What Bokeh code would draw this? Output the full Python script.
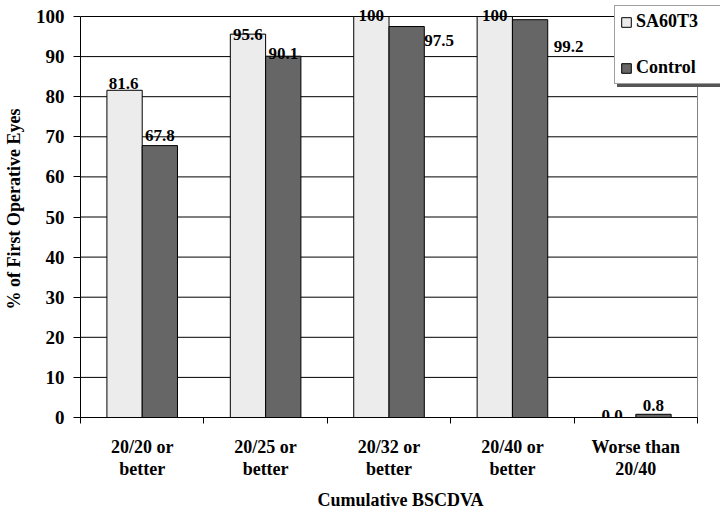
from bokeh.plotting import figure
from bokeh.models import (ColumnDataSource, Range1d, FixedTicker, Legend, LegendItem)
from bokeh.core.properties import value
from bokeh.embed import file_html
from bokeh.resources import INLINE
import numpy as np

categories = ["20/20 or\nbetter", "20/25 or\nbetter", "20/32 or\nbetter", "20/40 or\nbetter", "Worse than\n20/40"]
sa60t3 = [81.6, 95.6, 100.0, 100.0, 0.0]
control = [67.8, 90.1, 97.5, 99.2, 0.8]
y_ticks = [0, 10, 20, 30, 40, 50, 60, 70, 80, 90, 100]

FONT = "Liberation Serif"
LIGHT = "#ececec"
DARK = "#666666"
BW = 0.286

W, H = 720, 512
LEFT, BOTTOM = 79, 95          # border sizes in px
PLOT_W, PLOT_H = 618, 401      # size of the 0..n / 0..100 area in px


def fmt(v):
    return "100" if v == 100 else f"{v:.1f}"


n = len(categories)
centers = np.arange(n) + 0.5
ymax = y_ticks[-1]

frame_w = W - LEFT
frame_h = H - BOTTOM
x_end = n * frame_w / PLOT_W
y_end = ymax * frame_h / PLOT_H

src_a = ColumnDataSource(dict(x=centers - BW / 2, top=sa60t3))
src_b = ColumnDataSource(dict(x=centers + BW / 2, top=control))

p = figure(width=W, height=H, output_backend="svg", toolbar_location=None,
           x_range=Range1d(0, x_end), y_range=Range1d(0, y_end),
           min_border_left=LEFT, min_border_right=0, min_border_top=0, min_border_bottom=BOTTOM)
p.outline_line_color = None
p.background_fill_color = "white"
p.border_fill_color = "white"
p.xgrid.grid_line_color = None
p.ygrid.grid_line_color = None

# horizontal gridlines and right border of the plot area
grid = ColumnDataSource(dict(y=y_ticks, x0=[0] * len(y_ticks), x1=[n] * len(y_ticks)))
p.segment(x0="x0", y0="y", x1="x1", y1="y", source=grid, line_color="black", line_width=1)
p.segment(x0=[n], y0=[0], x1=[n], y1=[ymax], line_color="#808080", line_width=1)

ra = p.vbar(x="x", top="top", width=BW, source=src_a, fill_color=LIGHT, line_color="black", line_width=1)
rb = p.vbar(x="x", top="top", width=BW, source=src_b, fill_color=DARK, line_color="black", line_width=1)

TXT = dict(text_font=value(FONT), text_font_style="bold", text_font_size="17px", text_color="black")

# value labels: SA60T3
lab_a = ColumnDataSource(dict(x=centers - BW / 2, y=sa60t3, t=[fmt(v) for v in sa60t3],
                              xo=[-1, 0, 0, 0, -6], yo=[-7, 0, -1, -1, -2]))
p.text(x="x", y="y", text="t", source=lab_a, x_offset="xo", y_offset="yo",
       text_align="center", text_baseline="alphabetic", **TXT)

# value labels: Control (above bars)
idx_c = [0, 1, 4]
lab_b_c = ColumnDataSource(dict(x=[centers[i] + BW / 2 for i in idx_c],
                                y=[control[i] for i in idx_c],
                                t=[fmt(control[i]) for i in idx_c],
                                yo=[-10, -3, -9]))
p.text(x="x", y="y", text="t", source=lab_b_c, y_offset="yo",
       text_align="center", text_baseline="alphabetic", **TXT)

# value labels: Control (beside bars)
idx_r = [2, 3]
lab_b_r = ColumnDataSource(dict(x=[centers[i] + BW for i in idx_r],
                                y=[control[i] for i in idx_r],
                                t=[fmt(control[i]) for i in idx_r],
                                xo=[0, 6], yo=[14, 27]))
p.text(x="x", y="y", text="t", source=lab_b_r, x_offset="xo", y_offset="yo",
       text_align="left", text_baseline="middle", **TXT)

# x axis
xa = p.xaxis[0]
xa.bounds = (0, n)
xa.ticker = FixedTicker(ticks=list(centers), minor_ticks=list(range(n + 1)))
xa.major_label_overrides = {float(c): lab for c, lab in zip(centers, categories)}
xa.major_tick_out = 0
xa.major_tick_in = 0
xa.minor_tick_out = 6
xa.minor_tick_in = 0
xa.minor_tick_line_color = "black"
xa.axis_line_color = "black"
xa.major_label_standoff = 13
xa.major_label_text_font = FONT
xa.major_label_text_font_style = "bold"
xa.major_label_text_font_size = "18px"
xa.major_label_text_line_height = 1.1
xa.major_label_text_color = "black"
xa.axis_label = "Cumulative BSCDVA"
xa.axis_label_text_font = FONT
xa.axis_label_text_font_style = "bold"
xa.axis_label_text_font_size = "18px"
xa.axis_label_text_color = "black"
xa.axis_label_standoff = 8

# y axis
ya = p.yaxis[0]
ya.bounds = (0, ymax)
ya.ticker = FixedTicker(ticks=y_ticks)
ya.major_tick_out = 7
ya.major_tick_in = 0
ya.minor_tick_line_color = None
ya.axis_line_color = "black"
ya.major_tick_line_color = "black"
ya.major_label_standoff = 9
ya.major_label_text_font = FONT
ya.major_label_text_font_style = "bold"
ya.major_label_text_font_size = "19px"
ya.major_label_text_color = "black"
ya.axis_label = "% of First Operative Eyes"
ya.axis_label_text_font = FONT
ya.axis_label_text_font_style = "bold"
ya.axis_label_text_font_size = "18px"
ya.axis_label_text_color = "black"
ya.axis_label_standoff = 9

# legend (with a shadow drawn by a blank legend behind it)
LEG = dict(orientation="vertical", glyph_width=12, glyph_height=12, label_height=20,
           label_width=120, label_standoff=4, spacing=25, padding=5, margin=0,
           label_text_font=FONT, label_text_font_style="bold", label_text_font_size="18px",
           border_line_width=1, background_fill_alpha=1.0)
shadow = Legend(items=[LegendItem(label=" ", renderers=[ra]),
                       LegendItem(label=" ", renderers=[rb])],
                location=(537, 330), label_text_alpha=0.0,
                border_line_color="#555555", background_fill_color="#555555", **LEG)
legend = Legend(items=[LegendItem(label="SA60T3", renderers=[ra]),
                       LegendItem(label="Control", renderers=[rb])],
                location=(534, 333), label_text_color="black",
                border_line_color="#404040", background_fill_color="white", **LEG)
p.add_layout(shadow, "center")
p.add_layout(legend, "center")

open("out.html", "w").write(file_html(p, INLINE))
